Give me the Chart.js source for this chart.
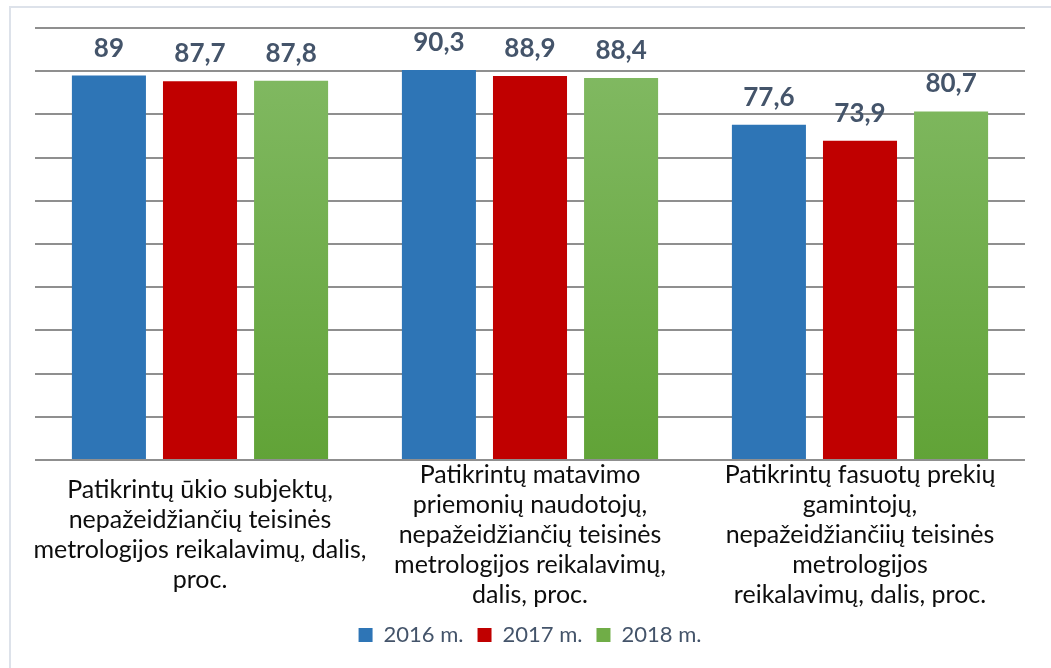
<!DOCTYPE html>
<html>
<head>
<meta charset="utf-8">
<script src="https://cdn.jsdelivr.net/npm/chart.js@4"></script>
<style>
  html, body { margin: 0; padding: 0; background: #fff; }
  #wrap { position: relative; width: 1051px; height: 668px; }
  #frame { position: absolute; left: 9px; top: 6px; right: -4px; bottom: -4px;
           border-left: 2px solid #dde2ea; border-top: 2px solid #dde2ea; pointer-events: none; }
</style>
</head>
<body>
<div id="wrap">
  <canvas id="chart" width="1051" height="668"></canvas>
  <div id="frame"></div>
</div>
<script>
const categories = [
  ["Patikrintų ūkio subjektų,", "nepažeidžiančių teisinės", "metrologijos reikalavimų, dalis,", "proc."],
  ["Patikrintų matavimo", "priemonių naudotojų,", "nepažeidžiančių teisinės", "metrologijos reikalavimų,", "dalis, proc."],
  ["Patikrintų fasuotų prekių", "gamintojų,", "nepažeidžiančiių teisinės", "metrologijos", "reikalavimų, dalis, proc."]
];
const seriesNames = ["2016 m.", "2017 m.", "2018 m."];
const values2016 = [89, 90.3, 77.6];
const values2017 = [87.7, 88.9, 73.9];
const values2018 = [87.8, 88.4, 80.7];

const fmt = (v) => String(v).replace(".", ",");

// green bars fade lighter towards the top
function greenFill(c) {
  const area = c.chart.chartArea;
  if (!area) return "#70ad47";
  const g = c.chart.ctx.createLinearGradient(0, area.top, 0, area.bottom);
  g.addColorStop(0, "#84bb66");
  g.addColorStop(1, "#61a337");
  return g;
}

// values above the bars
const valueLabels = {
  id: "valueLabels",
  afterDatasetsDraw(chart) {
    const { ctx } = chart;
    ctx.save();
    ctx.font = "bold 26px Lato";
    ctx.fillStyle = "#44546a";
    ctx.textAlign = "center";
    ctx.textBaseline = "alphabetic";
    chart.data.datasets.forEach((ds, i) => {
      const meta = chart.getDatasetMeta(i);
      if (!meta || meta.hidden) return;
      meta.data.forEach((bar, k) => {
        ctx.fillText(fmt(ds.data[k]), bar.x, bar.y - 19);
      });
    });
    ctx.restore();
  }
};

const ctx = document.getElementById("chart").getContext("2d");
new Chart(ctx, {
  type: "bar",
  data: {
    labels: categories,
    datasets: [
      {label: seriesNames[0], data: values2016, backgroundColor: "#2e75b6", borderWidth: 0},
      {label: seriesNames[1], data: values2017, backgroundColor: "#c00000", borderWidth: 0},
      {label: seriesNames[2], data: values2018, backgroundColor: greenFill, borderWidth: 0}
    ]
  },
  options: {
    responsive: false,
    animation: false,
    layout: { padding: { left: 35, right: 26, top: 28, bottom: 12 } },
    datasets: { bar: { categoryPercentage: 0.828, barPercentage: 0.813 } },
    plugins: {
      legend: {
        position: "bottom",
        labels: {
          boxWidth: 14, boxHeight: 14, padding: 14,
          color: "#44546a",
          font: { family: "Lato", size: 22 },
          generateLabels: (chart) => chart.data.datasets.map((ds, i) => ({
            text: ds.label,
            fillStyle: ["#2e75b6", "#c00000", "#70ad47"][i],
            strokeStyle: "transparent",
            lineWidth: 0,
            hidden: false,
            datasetIndex: i,
            fontColor: "#44546a"
          }))
        }
      },
      tooltip: { enabled: false }
    },
    scales: {
      x: {
        grid: { display: false, drawTicks: false },
        border: { display: false },
        ticks: {
          color: "#0d0d0d",
          font: { family: "Lato", size: 25, lineHeight: 1.2 },
          maxRotation: 0, minRotation: 0, autoSkip: false,
          crossAlign: "center",
          padding: 15
        },
        // legend sits close under the last label line, like the original
        afterFit: (scale) => { scale.height = 150; }
      },
      y: {
        min: 0, max: 100,
        grid: { color: "#8f8f8f", lineWidth: 2, drawTicks: false },
        border: { display: false },
        ticks: { display: false, stepSize: 10 }
      }
    }
  },
  plugins: [valueLabels]
});
</script>
</body>
</html>
